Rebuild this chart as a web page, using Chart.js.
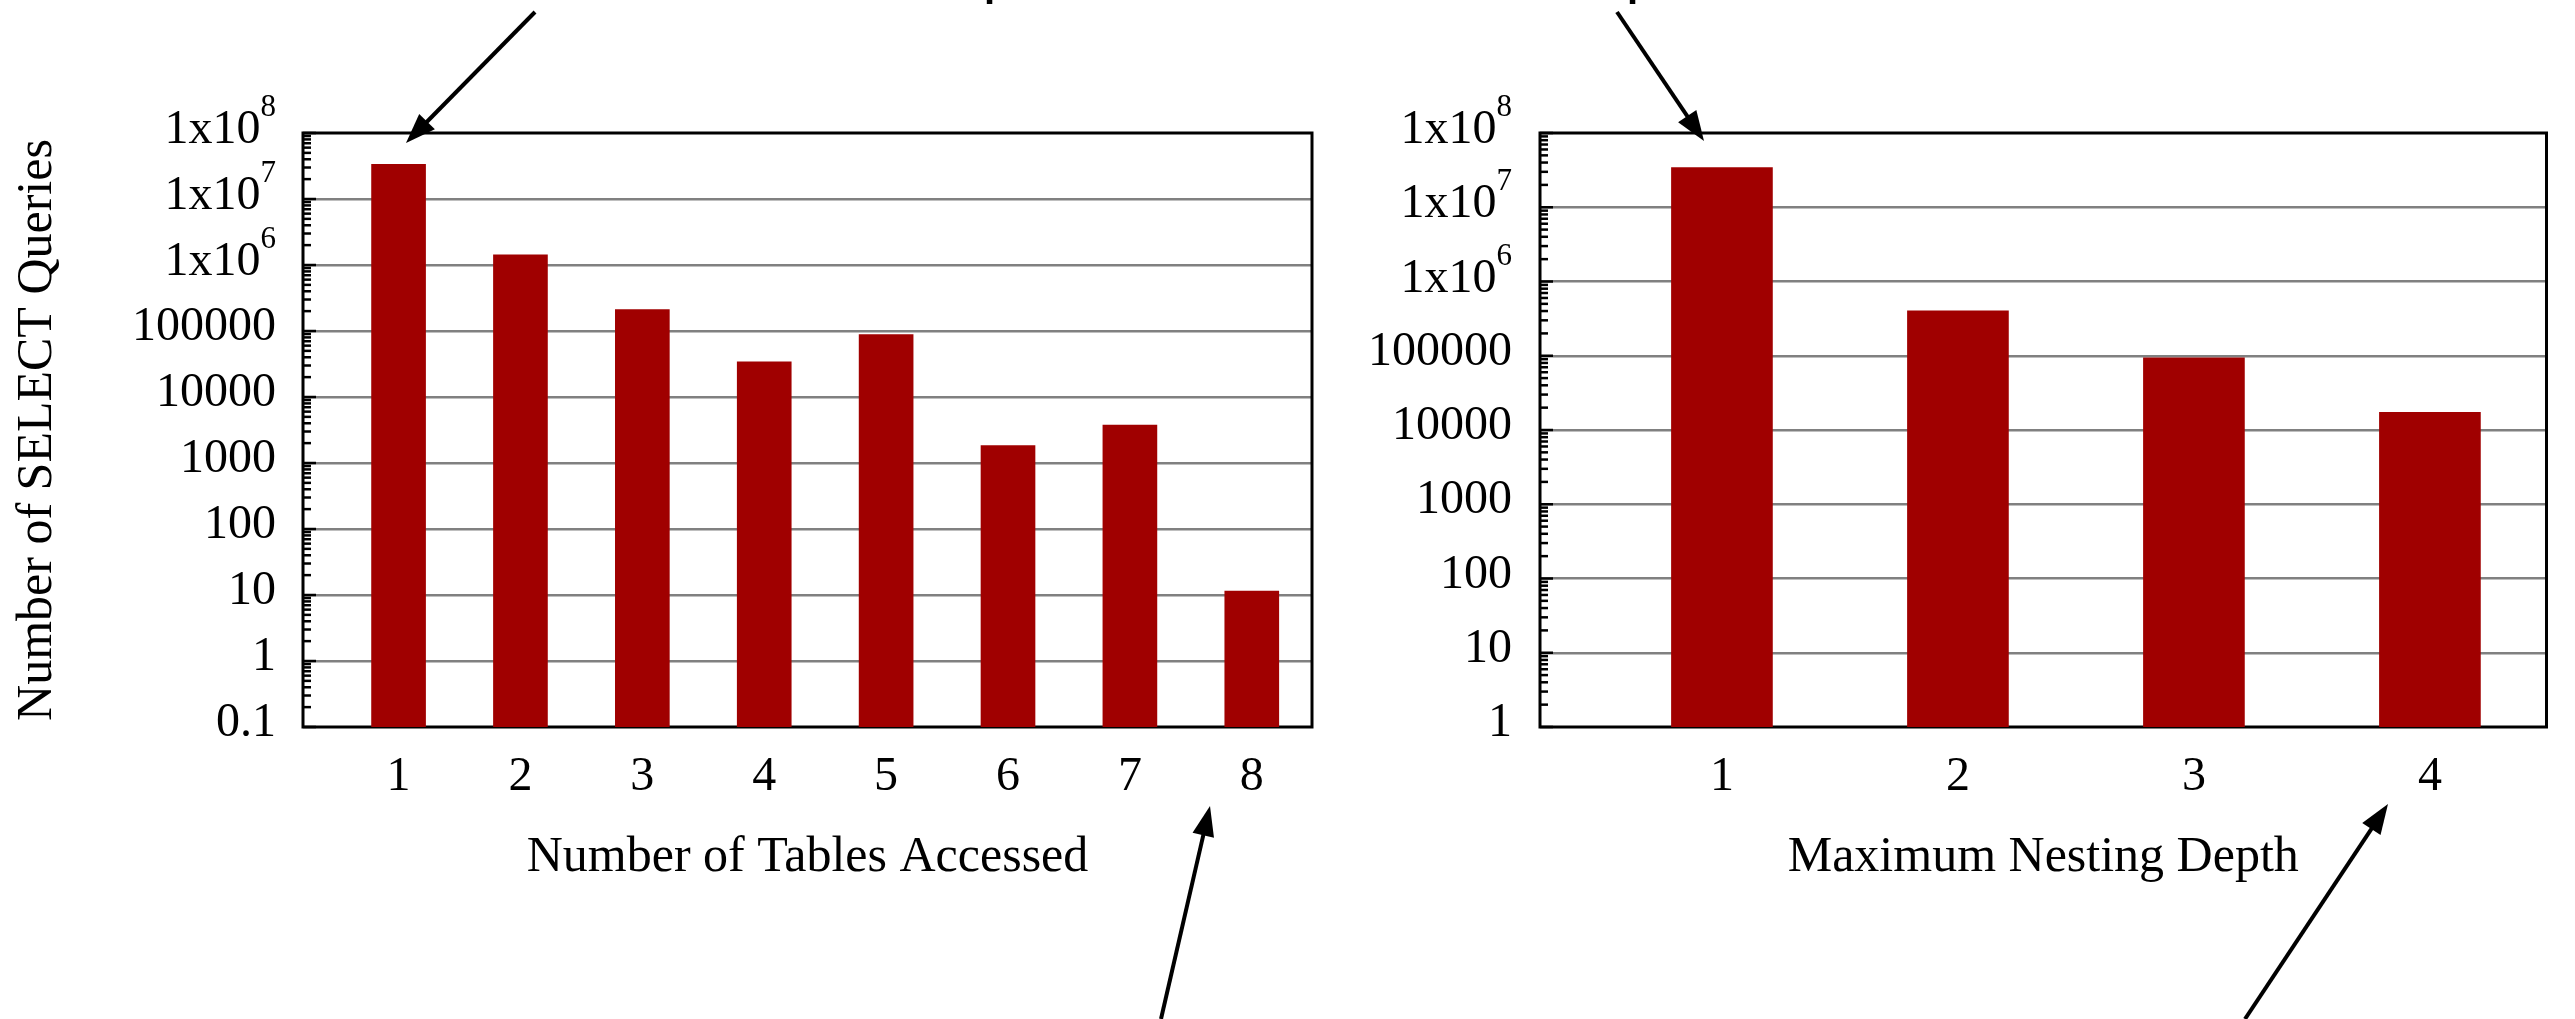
<!DOCTYPE html>
<html>
<head>
<meta charset="utf-8">
<script src="https://cdn.jsdelivr.net/npm/chart.js@4.4.1/dist/chart.umd.min.js"></script>
<style>
  html, body { margin: 0; padding: 0; background: #fff; }
  #wrap { position: relative; width: 2575px; height: 1019px; overflow: hidden; background: #fff; }
  #wrap canvas { position: absolute; left: 0; top: 0; }
</style>
</head>
<body>
<div id="wrap">
  <canvas id="tables" width="2575" height="1019"></canvas>
  <canvas id="nesting" width="2575" height="1019"></canvas>
  <canvas id="notes" width="2575" height="1019"></canvas>
</div>
<script>
// SELECT queries grouped by the number of tables they access
const tableCounts = [1, 2, 3, 4, 5, 6, 7, 8];
const tableQueries = [33600000, 1420000, 211000, 34000, 88000, 1840, 3770, 11.5];

// SELECT queries grouped by their maximum nesting depth
const nestingDepths = [1, 2, 3, 4];
const nestingQueries = [34200000, 402000, 94000, 17300];

// decade ticks of the two log axes and their labels ("^" marks an exponent)
const tableYTicks = [0.1, 1, 10, 100, 1000, 10000, 100000, 1e6, 1e7, 1e8];
const tableYLabels = ['0.1', '1', '10', '100', '1000', '10000', '100000', '1x10^6', '1x10^7', '1x10^8'];
const nestingYTicks = [1, 10, 100, 1000, 10000, 100000, 1e6, 1e7, 1e8];
const nestingYLabels = ['1', '10', '100', '1000', '10000', '100000', '1x10^6', '1x10^7', '1x10^8'];

const tablesXTitle = 'Number of Tables Accessed';
const nestingXTitle = 'Maximum Nesting Depth';
const queriesYTitle = 'Number of SELECT Queries';

const SERIF = "'Liberation Serif', 'Times New Roman', Times, serif";
const BAR_COLOR = '#a00000';
const GRID_COLOR = '#808080';

function isDecade(v) {
  const l = Math.log10(v);
  return Math.abs(l - Math.round(l)) < 1e-9;
}

// every 1..9 x 10^k value between two decades, for minor tick marks
function logTickValues(min, max) {
  const out = [];
  const k0 = Math.round(Math.log10(min));
  const k1 = Math.round(Math.log10(max));
  for (let k = k0; k < k1; k++) {
    for (let m = 1; m < 10; m++) out.push(m * Math.pow(10, k));
  }
  out.push(Math.pow(10, k1));
  return out;
}

// Box frame, inward tick marks on the left axis and 1x10^n labels
const framePlugin = {
  id: 'frame',
  beforeDatasetsDraw(chart) {
    const { ctx, chartArea: a } = chart;
    const y = chart.scales.y;
    ctx.save();
    ctx.strokeStyle = '#000';
    ctx.lineCap = 'butt';
    ctx.lineWidth = 2.5;
    for (const t of y.ticks) {
      const py = y.getPixelForValue(t.value);
      const len = isDecade(t.value) ? 13 : 8;
      ctx.beginPath();
      ctx.moveTo(a.left, py);
      ctx.lineTo(a.left + len, py);
      ctx.stroke();
    }
    ctx.lineWidth = 3;
    ctx.strokeRect(a.left, a.top, a.right - a.left, a.bottom - a.top);
    ctx.restore();
  },
  afterDraw(chart, args, opts) {
    const { ctx } = chart;
    const y = chart.scales.y;
    const xr = y.right - opts.labelGap;
    ctx.save();
    ctx.fillStyle = '#000';
    ctx.textAlign = 'right';
    ctx.textBaseline = 'alphabetic';
    opts.values.forEach((v, i) => {
      const txt = opts.labels[i];
      const p = txt.indexOf('^');
      if (p < 0) return;
      const base = txt.slice(0, p);
      const exp = txt.slice(p + 1);
      const by = y.getPixelForValue(v) + opts.baselineShift;
      ctx.font = '31px ' + SERIF;
      const ew = ctx.measureText(exp).width;
      ctx.fillText(exp, xr, by - 27);
      ctx.font = '48px ' + SERIF;
      ctx.fillText(base, xr - ew, by);
    });
    ctx.restore();
  }
};

function makeChart(id, cats, vals, yTicks, yLabels, cfg) {
  const yMin = yTicks[0];
  const yMax = yTicks[yTicks.length - 1];
  return new Chart(document.getElementById(id), {
    type: 'bar',
    data: {
      datasets: [{
        data: cats.map((c, i) => ({ x: c, y: vals[i] })),
        backgroundColor: BAR_COLOR,
        borderWidth: 0,
        barThickness: cfg.barThickness
      }]
    },
    options: {
      responsive: false,
      animation: false,
      devicePixelRatio: 1,
      layout: { padding: cfg.padding },
      plugins: {
        legend: { display: false },
        tooltip: { enabled: false },
        frame: { values: yTicks, labels: yLabels, labelGap: cfg.labelGap, baselineShift: 10 }
      },
      scales: {
        x: {
          type: 'linear',
          min: cfg.xMin,
          max: cfg.xMax,
          offset: false,
          afterFit: s => { s.height = 292; },
          afterBuildTicks: s => { s.ticks = cats.map(v => ({ value: v })); },
          grid: { display: false, drawTicks: false, offset: false },
          border: { display: false },
          ticks: {
            font: { family: SERIF, size: 48 },
            color: '#000',
            padding: 22,
            autoSkip: false,
            maxRotation: 0,
            callback: v => String(v)
          },
          title: {
            display: true,
            text: cfg.xTitle,
            color: '#000',
            font: { family: SERIF, size: 50 },
            padding: { top: 0, bottom: 131 }
          }
        },
        y: {
          type: 'logarithmic',
          min: yMin,
          max: yMax,
          afterFit: s => { s.width = cfg.yWidth; },
          afterBuildTicks: s => { s.ticks = logTickValues(yMin, yMax).map(v => ({ value: v })); },
          grid: {
            drawTicks: false,
            lineWidth: 2.5,
            color: c => (c.tick && isDecade(c.tick.value) && c.tick.value > yMin * 1.001 && c.tick.value < yMax * 0.999)
              ? GRID_COLOR : 'rgba(0,0,0,0)'
          },
          border: { display: false },
          ticks: {
            font: { family: SERIF, size: 48 },
            color: '#000',
            padding: cfg.labelGap,
            autoSkip: false,
            labelOffset: -3.5,
            callback: v => {
              const i = yTicks.findIndex(t => Math.abs(t - v) / t < 1e-9);
              return (i >= 0 && yLabels[i].indexOf('^') < 0) ? yLabels[i] : '';
            }
          },
          title: cfg.yTitle ? {
            display: true,
            text: cfg.yTitle,
            color: '#000',
            font: { family: SERIF, size: 50 },
            padding: { top: 8, bottom: 0 }
          } : { display: false }
        }
      }
    },
    plugins: [framePlugin]
  });
}

makeChart('tables', tableCounts, tableQueries, tableYTicks, tableYLabels, {
  padding: { left: 0, right: 1263, top: 133, bottom: 0 },
  yWidth: 303,
  labelGap: 27,
  xMin: 0.216,
  xMax: 8.494,
  barThickness: 54,
  xTitle: tablesXTitle,
  yTitle: queriesYTitle
});

makeChart('nesting', nestingDepths, nestingQueries, nestingYTicks, nestingYLabels, {
  padding: { left: 1300, right: 28.5, top: 133, bottom: 0 },
  yWidth: 240,
  labelGap: 28,
  xMin: 0.229,
  xMax: 4.494,
  barThickness: 101,
  xTitle: nestingXTitle,
  yTitle: null
});

// Call-out arrows around the two panels
const callouts = [
  { from: [535, 12], to: [406, 143] },
  { from: [1617, 12], to: [1704, 141] },
  { from: [1161, 1019], to: [1210, 806] },
  { from: [2245, 1019], to: [2388, 804] }
];

function drawArrow(ctx, x0, y0, x1, y1) {
  const ang = Math.atan2(y1 - y0, x1 - x0);
  const len = 30, half = 11;
  const bx = x1 - len * Math.cos(ang);
  const by = y1 - len * Math.sin(ang);
  ctx.beginPath();
  ctx.moveTo(x0, y0);
  ctx.lineTo(bx + 4 * Math.cos(ang), by + 4 * Math.sin(ang));
  ctx.stroke();
  ctx.beginPath();
  ctx.moveTo(x1, y1);
  ctx.lineTo(bx + half * Math.sin(ang), by - half * Math.cos(ang));
  ctx.lineTo(bx - half * Math.sin(ang), by + half * Math.cos(ang));
  ctx.closePath();
  ctx.fill();
}

const notes = document.getElementById('notes').getContext('2d');
notes.strokeStyle = '#000';
notes.fillStyle = '#000';
notes.lineWidth = 4;
callouts.forEach(c => drawArrow(notes, c.from[0], c.from[1], c.to[0], c.to[1]));

// tails of the caption line running off the top edge
notes.font = "bold 40px 'Liberation Sans', Arial, sans-serif";
notes.textBaseline = 'alphabetic';
notes.fillText('p', 984, -4.3);
notes.fillText('p', 1627, -4.3);
</script>
</body>
</html>
